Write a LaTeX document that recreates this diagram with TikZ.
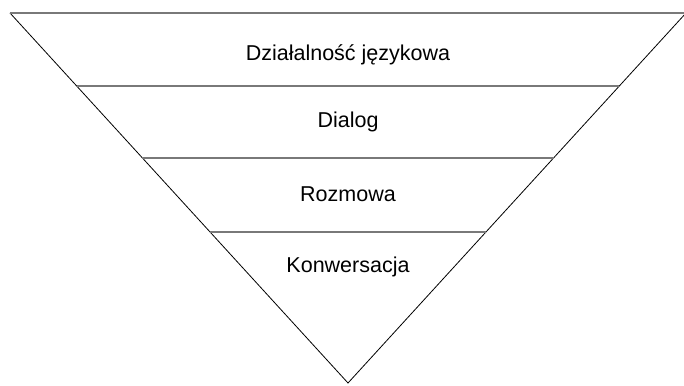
\documentclass[tikz,border=0pt]{standalone}
\usepackage{fontspec}
\setmainfont{Liberation Sans}
\usetikzlibrary{calc}

\begin{document}
\begin{tikzpicture}[x=1pt, y=-1pt,
    side/.style={black, line width=0.8pt},
    level/.style={gray!95!black, line width=1.5pt},
    lbl/.style={font=\fontsize{21.5}{25}\selectfont}]

    \useasboundingbox (0,0) rectangle (684,385);

    % corners of the funnel
    \coordinate (L) at (10,13);
    \coordinate (R) at (686,13);
    \coordinate (A) at (348,383);

    \draw[side] (L) -- (A) -- (R);
    \draw[level] (L) -- (R);

    % levels
    \foreach \t/\n in {0.197/a, 0.392/b, 0.592/c} {
        \coordinate (l\n) at ($(L)!\t!(A)$);
        \coordinate (r\n) at ($(R)!\t!(A)$);
        \draw[level] (l\n) -- (r\n);
    }

    \node[lbl] (dzial) at (348,55) {Działalność językowa};
    \node[lbl] (dial) at (348,122) {Dialog};
    \node[lbl] (rozm) at (348,194) {Rozmowa};
    \node[lbl] (konw) at (348,267) {Konwersacja};

\end{tikzpicture}
\end{document}
